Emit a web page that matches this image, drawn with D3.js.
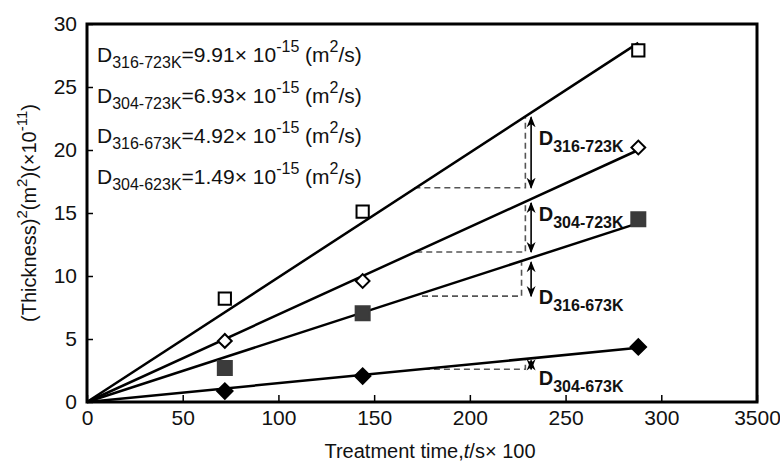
<!DOCTYPE html>
<html>
<head>
<meta charset="utf-8">
<script src="https://cdn.jsdelivr.net/npm/d3@7/dist/d3.min.js"></script>
<style>
  html, body { margin: 0; padding: 0; background: #fff; }
  svg { display: block; font-family: "Liberation Sans", Arial, Helvetica, sans-serif; }
</style>
</head>
<body>
<svg id="chart" width="780" height="468"></svg>
<script>
// Treatment times (s x 100) at which layers were measured
const times = [72, 144, 288];

// Measured (thickness)^2 values, x 1e-11 m^2
const open316_723 = [8.2, 15.1, 27.9];   // open squares
const open304_723 = [4.85, 9.6, 20.2];   // open diamonds
const fill316_673 = [2.7, 7.05, 14.5];   // filled squares
const fill304_673 = [0.87, 2.06, 4.37];  // filled diamonds

// Fitted straight lines through the origin: value reached at t = 288
const fitTimes = [0, 288];
const fitEnd = [28.5, 20.0, 14.2, 4.3];

// Slope construction for each line: dashed step and double arrow
const stepStart = [171, 172, 175, 176];
const stepEnd = [229, 229, 227, 229];
const stepLow = [17.0, 11.9, 8.4, 2.6];
const stepHigh = [22.6, 15.8, 11.1, 3.3];
const arrowTime = 232;
const labelSubs = ["316-723K", "304-723K", "316-673K", "304-673K"];
const labelTime = 236;
const labelValue = [20.4, 14.4, 7.8, 1.35];

// Diffusion coefficients listed in the upper left
const coefNames = ["316-723K", "304-723K", "316-673K", "304-623K"];
const coefValues = ["9.91", "6.93", "4.92", "1.49"];

// Axis ticks
const xTicks = [0, 50, 100, 150, 200, 250, 300, 350];
const xTickLabels = ["0", "50", "100", "150", "200", "250", "300", "3500"];
const yTicks = [0, 5, 10, 15, 20, 25, 30];
const yTickLabels = ["0", "5", "10", "15", "20", "25", "30"];

const svg = d3.select("#chart");
const plotL = 87, plotR = 757, plotT = 24, plotB = 402;

const x = d3.scaleLinear().domain([0, 350]).range([plotL, plotR]);
const y = d3.scaleLinear().domain([0, 30]).range([plotB, plotT]);

// Write a run of normal / subscript / superscript / italic pieces into a text element
function rich(textSel, parts, subShift, supShift) {
  let cur = 0;
  parts.forEach(p => {
    const target = p.k === "sub" ? subShift : p.k === "sup" ? supShift : 0;
    const ts = textSel.append("tspan").text(p.s).attr("dy", target - cur);
    cur = target;
    if (p.size) ts.attr("font-size", p.size);
    if (p.k === "it") ts.attr("font-style", "italic");
  });
}

// Axes with inward ticks
const xAxis = d3.axisBottom(x).tickValues(xTicks)
  .tickFormat((d, i) => xTickLabels[i]).tickSizeInner(-7).tickSizeOuter(0).tickPadding(8);
const yAxis = d3.axisLeft(y).tickValues(yTicks)
  .tickFormat((d, i) => yTickLabels[i]).tickSizeInner(-6).tickSizeOuter(0).tickPadding(10);

const gx = svg.append("g").attr("transform", `translate(0,${plotB})`).call(xAxis);
const gy = svg.append("g").attr("transform", `translate(${plotL},0)`).call(yAxis);
[gx, gy].forEach(g => {
  g.select(".domain").remove();
  g.selectAll(".tick line").attr("stroke", "#000").attr("stroke-width", 1.5);
  g.selectAll(".tick text").attr("fill", "#111").attr("font-size", 21)
    .attr("font-family", "'Liberation Sans', Arial, sans-serif");
});

// Plot frame
svg.append("rect")
  .attr("x", plotL).attr("y", plotT)
  .attr("width", plotR - plotL).attr("height", plotB - plotT)
  .attr("fill", "none").attr("stroke", "#000").attr("stroke-width", 3);

// Axis titles
const xt = svg.append("text").attr("x", 430).attr("y", 458)
  .attr("text-anchor", "middle").attr("font-size", 20).attr("fill", "#111");
rich(xt, [{ s: "Treatment time," }, { s: "t", k: "it" }, { s: "/s\u00d7 100" }], 0, 0);

const yt = svg.append("text").attr("transform", "translate(36,213) rotate(-90)")
  .attr("text-anchor", "middle").attr("font-size", 20).attr("fill", "#111");
rich(yt, [
  { s: "(Thickness)" }, { s: "2", k: "sup", size: 15 }, { s: "(m" }, { s: "2", k: "sup", size: 15 },
  { s: ")(\u00d710" }, { s: "-11", k: "sup", size: 15 }, { s: ")" }
], 6, -9);

// Slope constructions: dashed steps and double arrows
const defs = svg.append("defs");
["arrowEnd", "arrowStart"].forEach((id, i) => {
  defs.append("marker").attr("id", id)
    .attr("viewBox", "0 0 10 10").attr("refX", 9).attr("refY", 5)
    .attr("markerWidth", 7).attr("markerHeight", 7)
    .attr("orient", i === 0 ? "auto" : "auto-start-reverse")
    .append("path").attr("d", "M0,1 L10,5 L0,9 L3,5 Z").attr("fill", "#000");
});

const steps = svg.append("g");
stepStart.forEach((t0, i) => {
  steps.append("path")
    .attr("d", `M${x(t0)},${y(stepLow[i])} H${x(stepEnd[i])} V${y(stepHigh[i])}`)
    .attr("fill", "none").attr("stroke", "#555").attr("stroke-width", 1.6)
    .attr("stroke-dasharray", "6,4");
  steps.append("line")
    .attr("x1", x(arrowTime)).attr("x2", x(arrowTime))
    .attr("y1", y(stepLow[i])).attr("y2", y(stepHigh[i]))
    .attr("stroke", "#000").attr("stroke-width", 1.6)
    .attr("marker-end", "url(#arrowEnd)").attr("marker-start", "url(#arrowStart)");
  const lt = steps.append("text").attr("x", x(labelTime)).attr("y", y(labelValue[i]))
    .attr("font-weight", "bold").attr("font-size", 20).attr("fill", "#111");
  rich(lt, [{ s: "D" }, { s: labelSubs[i], k: "sub", size: 16 }], 7, 0);
});

// Fitted lines
const fitLine = d3.line().x(d => x(d[0])).y(d => y(d[1]));
fitEnd.forEach(v => {
  svg.append("path")
    .datum([[fitTimes[0], 0], [fitTimes[1], v]])
    .attr("d", fitLine)
    .attr("fill", "none").attr("stroke", "#000").attr("stroke-width", 2.5);
});

// Measured points
const sq = d3.symbol().type(d3.symbolSquare);
const series = [
  { vals: open316_723, size: 150, rot: 0, fill: "#fff", stroke: "#000" },
  { vals: open304_723, size: 95, rot: 45, fill: "#fff", stroke: "#000" },
  { vals: fill316_673, size: 196, rot: 0, fill: "#3b3b3b", stroke: "#3b3b3b" },
  { vals: fill304_673, size: 120, rot: 45, fill: "#000", stroke: "#000" }
];
series.forEach(s => {
  svg.append("g").selectAll("path").data(s.vals).join("path")
    .attr("d", sq.size(s.size)())
    .attr("transform", (d, i) => `translate(${x(times[i])},${y(d)}) rotate(${s.rot})`)
    .attr("fill", s.fill).attr("stroke", s.stroke).attr("stroke-width", 2);
});

// Coefficient list
coefNames.forEach((n, i) => {
  const t = svg.append("text").attr("x", 97).attr("y", 62 + i * 40.5)
    .attr("font-size", 21).attr("fill", "#111");
  rich(t, [
    { s: "D" }, { s: n, k: "sub", size: 16 }, { s: "=" + coefValues[i] + "\u00d7 10" },
    { s: "-15", k: "sup", size: 16 }, { s: " (m" }, { s: "2", k: "sup", size: 16 }, { s: "/s)" }
  ], 6, -10);
});
</script>
</body>
</html>
